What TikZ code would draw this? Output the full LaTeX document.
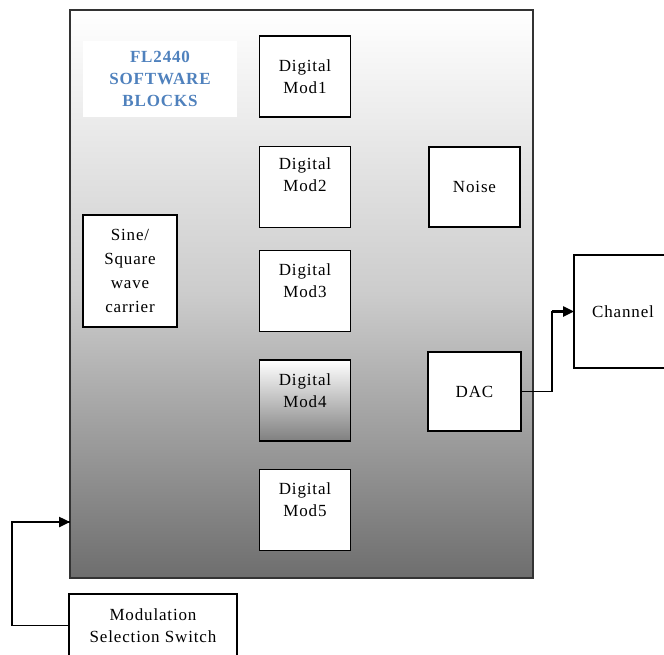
\documentclass[tikz,border=0pt]{standalone}
\usepackage{fontspec}
\setmainfont{Liberation Serif}[LetterSpace=5]
\usetikzlibrary{arrows.meta,calc}
\definecolor{titleblue}{RGB}{79,129,189}
\begin{document}
\begin{tikzpicture}[x=1pt,y=-1pt,
  blk/.style={draw=black, line width=1.8pt, fill=white, inner sep=0pt, outer sep=0pt, align=center, font=\fontsize{17}{23}\selectfont},
  modbox/.style={blk, minimum width=91pt, minimum height=81pt},
  txt/.style={inner sep=0pt, align=center, font=\fontsize{17}{22}\selectfont},
  wire/.style={line width=1.3pt},
  arr/.style={line width=2.4pt, -{Triangle[length=11pt,width=10pt]}}
]
\useasboundingbox (0,0) rectangle (664,655);
\clip (0,0) rectangle (664,655);

% big software block
\node[draw=black!80, line width=1.8pt, top color=white, bottom color=black!57, middle color=black!20,
      minimum width=463pt, minimum height=568pt, inner sep=0pt, outer sep=0pt] (big) at (301.5,294) {};

% title
\node[fill=white, minimum width=154pt, minimum height=76pt, inner sep=0pt,
      text=titleblue, align=center, font=\bfseries\fontsize{17}{22}\selectfont] (title) at (160,79)
      {FL2440\\SOFTWARE\\BLOCKS};

% digital modulation blocks
\node[modbox] (m1) at (305,76.5) {};
\node[txt] (t1) at ($(m1.center)+(0,0)$) {Digital\\Mod1};
\node[modbox] (m2) at (305,187) {};
\node[txt] (t2) at ($(m2.center)+(0,-12)$) {Digital\\Mod2};
\node[modbox] (m3) at (305,291) {};
\node[txt] (t3) at ($(m3.center)+(0,-10)$) {Digital\\Mod3};
\node[modbox, top color=white, bottom color=black!50] (m4) at (305,400.5) {};
\node[txt] (t4) at ($(m4.center)+(0,-10)$) {Digital\\Mod4};
\node[modbox] (m5) at (305,510) {};
\node[txt] (t5) at ($(m5.center)+(0,-10)$) {Digital\\Mod5};

% carrier
\node[blk, minimum width=94pt, minimum height=112pt, font=\fontsize{17}{24}\selectfont] (sine) at (130,271)
      {Sine/\\Square\\wave\\carrier};

% noise and DAC
\node[blk, minimum width=91pt, minimum height=80pt] (noise) at (474.5,187) {Noise};
\node[blk, minimum width=93pt, minimum height=79pt] (dac) at (474.5,391.5) {DAC};

% channel
\node[blk, line width=1.4pt, minimum width=98pt, minimum height=113pt] (ch) at (623,311.5) {Channel};

% modulation selection switch
\node[blk, line width=1.4pt, minimum width=168pt, minimum height=63pt, font=\fontsize{17}{22}\selectfont] (sw) at (153,625.5)
      {Modulation\\Selection Switch};

% connectors
\coordinate (bigin) at ($(big.south west)+(0,-56)$);
\draw[wire] (sw.west) -- ++(-57,0) coordinate (swc) |- (bigin);
\draw[arr] (swc |- bigin) -- (bigin);
\draw[wire] (dac.east) -- ++(31,0) coordinate (dc) |- (ch.west);
\draw[arr] (dc |- ch.west) -- (ch.west);
\end{tikzpicture}
\end{document}
